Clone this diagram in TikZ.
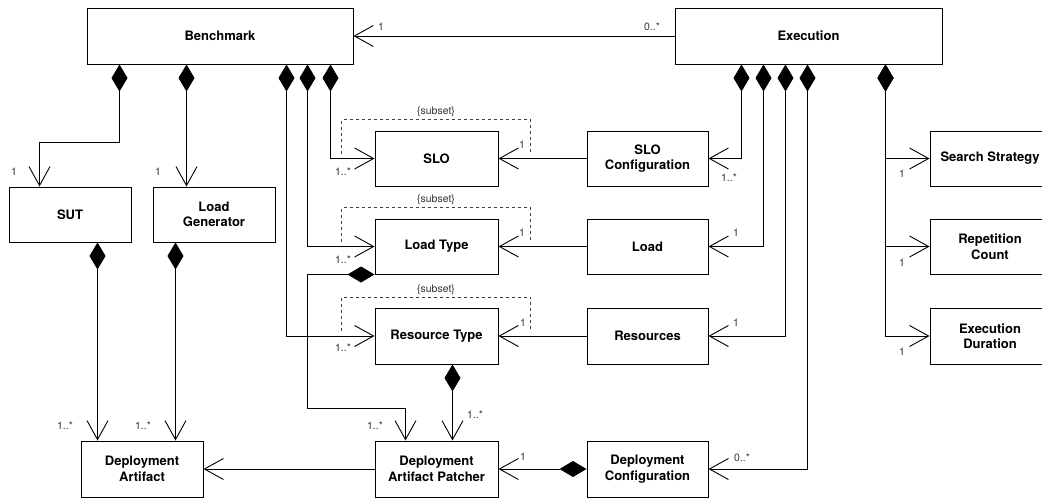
\documentclass[tikz,border=0pt]{standalone}
\usepackage{fontspec}
\setmainfont{TeX Gyre Heros}
\usetikzlibrary{arrows.meta}
\begin{document}
\begin{tikzpicture}[x=1pt,y=-1pt,
  cls/.style={draw, line width=1pt, inner sep=0pt, align=center,
    font=\fontsize{13}{15.5}\selectfont\bfseries},
  assoc/.style={line width=0.9pt, -{Straight Barb[length=19pt,width=21pt,line width=0.9pt]}},
  comp/.style={line width=0.9pt, {Diamond[length=27pt,width=16pt,fill=black]}-{Straight Barb[length=19pt,width=21pt,line width=0.9pt]}},
  subsetline/.style={line width=0.8pt, dash pattern=on 3pt off 3pt, black!75},
  mult/.style={inner sep=0pt, font=\fontsize{10.5}{12}\selectfont, text=black!80}
]
\useasboundingbox (0,0) rectangle (1042,498);

% classes
\node[cls, minimum width=266, minimum height=56] (bench) at (220,36) {Benchmark};
\node[cls, minimum width=267, minimum height=56] (exec) at (808.5,36) {Execution};
\node[cls, minimum width=122, minimum height=55] (sut) at (70,214.5) {SUT};
\node[cls, minimum width=122, minimum height=55] (lg) at (214,214.5) {Load\\Generator};
\node[cls, minimum width=123, minimum height=55] (slo) at (436.5,158.5) {SLO};
\node[cls, minimum width=121, minimum height=55] (sloc) at (647.5,158.5) {SLO\\Configuration};
\node[cls, minimum width=123, minimum height=55] (lt) at (436.5,246.5) {Load Type};
\node[cls, minimum width=121, minimum height=55] (load) at (647.5,246.5) {Load};
\node[cls, minimum width=123, minimum height=56] (rt) at (436.5,336) {Resource Type};
\node[cls, minimum width=121, minimum height=56] (res) at (647.5,336) {Resources};
\node[cls, minimum width=123, minimum height=56] (dap) at (436.5,469) {Deployment\\Artifact Patcher};
\node[cls, minimum width=122, minimum height=56] (da) at (142,469) {Deployment\\Artifact};
\node[cls, minimum width=121, minimum height=56] (dc) at (647.5,469) {Deployment\\Configuration};
\node[cls, minimum width=120, minimum height=55] (ss) at (990,158.5) {Search Strategy};
\node[cls, minimum width=120, minimum height=55] (rc) at (990,246.5) {Repetition\\Count};
\node[cls, minimum width=120, minimum height=56] (ed) at (990,336) {Execution\\Duration};

% Execution -> Benchmark
\draw[assoc] (exec.west) -- (bench.east);

% Benchmark compositions
\draw[comp] ([xshift=33]bench.south west) -- ++(0,78) -| ([xshift=31]sut.north west);
\draw[comp] ([xshift=100]bench.south west) -- ([xshift=34]lg.north west);
\draw[comp] ([xshift=244]bench.south west) |- (slo.west);
\draw[comp] ([xshift=221]bench.south west) |- (lt.west);
\draw[comp] ([xshift=200]bench.south west) |- (rt.west);

% Execution compositions
\draw[comp] ([xshift=67]exec.south west) |- (sloc.east);
\draw[comp] ([xshift=89]exec.south west) |- (load.east);
\draw[comp] ([xshift=111]exec.south west) |- (res.east);
\draw[comp] ([xshift=133]exec.south west) |- (dc.east);
\draw[comp] ([xshift=211]exec.south west) |- (ss.west);
\draw[comp] ([xshift=211]exec.south west) |- (rc.west);
\draw[comp] ([xshift=211]exec.south west) |- (ed.west);

% associations
\draw[assoc] (sloc.west) -- (slo.east);
\draw[assoc] (load.west) -- (lt.east);
\draw[assoc] (res.west) -- (rt.east);
\draw[assoc] (dap.west) -- (da.east);
\draw[comp] (dc.west) -- (dap.east);

% to deployment artifact
\draw[comp] ([xshift=89]sut.south west) -- ([xshift=17]da.north west);
\draw[comp] ([xshift=23]lg.south west) -- ([xshift=95]da.north west);

% to deployment artifact patcher
\draw[comp] ([xshift=78]rt.south west) -- ([xshift=78]dap.north west);
\draw[comp] (lt.south west) -- ++(-67,0) -- ++(0,134) -| ([xshift=31]dap.north west);

% subset constraints
\draw[subsetline] ([xshift=-33,yshift=5]slo.west) -- ++(0,-34)
  -- node[mult, above=2pt] (sub1) {\{subset\}} ++(189,0) -- ++(0,34);
\draw[subsetline] ([xshift=-33,yshift=5]lt.west) -- ++(0,-34)
  -- node[mult, above=2pt] (sub2) {\{subset\}} ++(189,0) -- ++(0,34);
\draw[subsetline] ([xshift=-33,yshift=5]rt.west) -- ++(0,-34)
  -- node[mult, above=2pt] (sub3) {\{subset\}} ++(189,0) -- ++(0,34);

% multiplicities
\node[mult] (m1) at (381,27) {1};
\node[mult] (m2) at (652,27) {0..*};
\node[mult] (m3) at (14,172) {1};
\node[mult] (m4) at (158,172) {1};
\node[mult] (m5) at (343,172) {1..*};
\node[mult] (m6) at (522,145) {1};
\node[mult] (m7) at (729,178) {1..*};
\node[mult] (m8) at (343,260) {1..*};
\node[mult] (m9) at (522,233) {1};
\node[mult] (m10) at (736,233) {1};
\node[mult] (m11) at (343,348) {1..*};
\node[mult] (m12) at (523,323) {1};
\node[mult] (m13) at (736,323) {1};
\node[mult] (m14) at (375,426) {1..*};
\node[mult] (m15) at (475,415) {1..*};
\node[mult] (m16) at (65,426) {1..*};
\node[mult] (m17) at (143,426) {1..*};
\node[mult] (m18) at (523,457) {1};
\node[mult] (m19) at (742,458) {0..*};
\node[mult] (m20) at (902,174) {1};
\node[mult] (m21) at (902,263) {1};
\node[mult] (m22) at (902,352) {1};
\end{tikzpicture}
\end{document}
